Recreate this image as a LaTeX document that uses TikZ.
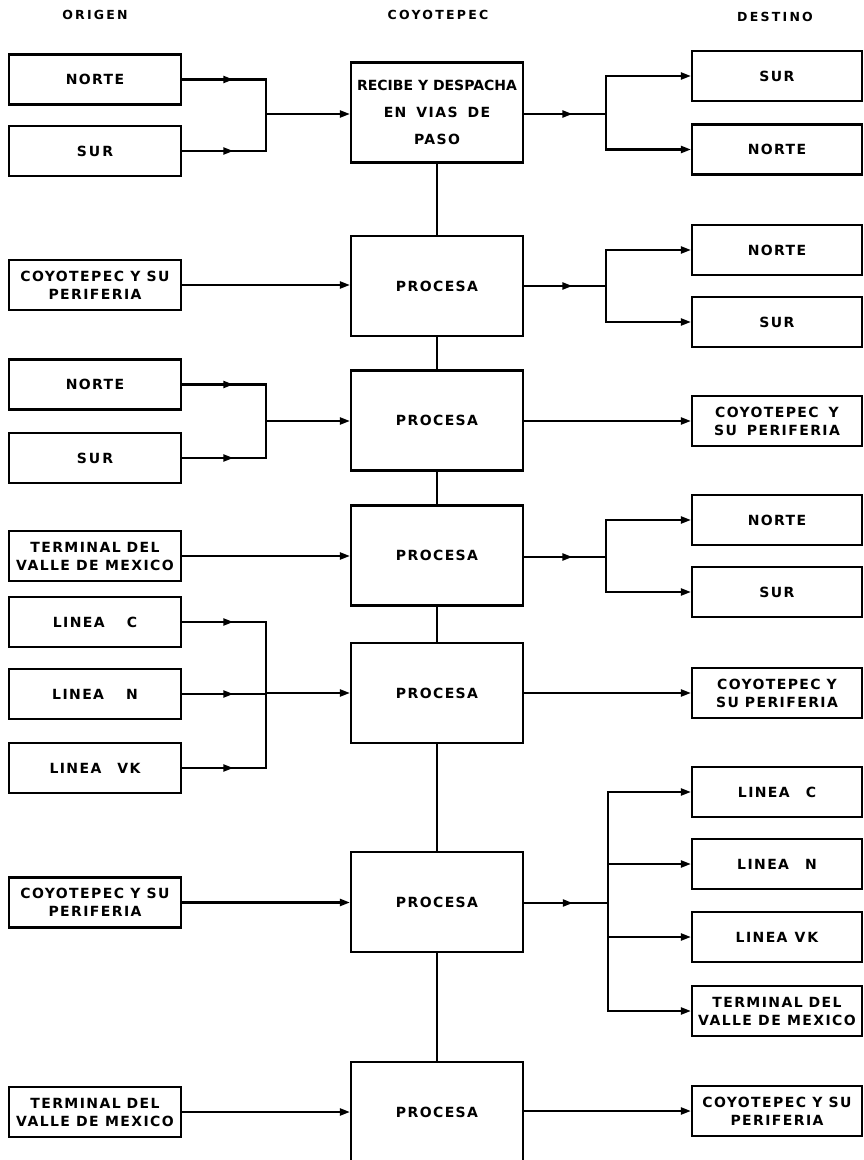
\documentclass[tikz,border=0pt]{standalone}
\usepackage{fontspec}
\setmainfont{DejaVu Sans Bold}[LetterSpace=10]
\usetikzlibrary{arrows.meta,decorations.markings}
\newcommand\gp[1]{\hspace{#1pt}}
\tikzset{
 ln/.style={line width=2.2pt, line cap=rect},
 box/.style={draw, line width=2.2pt, minimum height=50pt, inner sep=0pt, align=center,
   font=\fontsize{14}{18}\selectfont},
 lbox/.style={box, minimum width=172pt},
 cbox/.style={box, minimum width=172pt, minimum height=100pt},
 rbox/.style={box, minimum width=170pt},
 hdr/.style={font=\fontsize{12.5}{15}\selectfont\addfontfeatures{LetterSpace=18}},
 arr/.style={ln, -{Triangle[length=10pt,width=7pt]}},
 mid/.style={ln, postaction={decorate}, decoration={markings,
   mark=at position #1 with {\arrow{Triangle[length=10pt,width=7pt]}}}}
}
\begin{document}
\begin{tikzpicture}[x=1pt,y=-1pt]
\useasboundingbox (0,0) rectangle (864,1160);
\clip (0,0) rectangle (864,1160);
\fill[white] (0,0) rectangle (864,1160);
% headers
\node[hdr] (hO) at (95,15) {ORIGEN};
\node[hdr] (hC) at (438,15) {COYOTEPEC};
\node[hdr] (hD) at (775,17) {DESTINO};
% left boxes
\node[lbox] (L1) at (95,79.5) {NORTE};
\node[lbox] (L2) at (95,151) {S\gp{2}U\gp{2}R};
\node[lbox] (L3) at (95,285) {COYOTEPEC Y SU\\PERIFERIA};
\node[lbox] (L4) at (95,384.5) {NORTE};
\node[lbox] (L5) at (95,458) {S\gp{2}U\gp{2}R};
\node[lbox] (L6) at (95,556) {TERMINAL\gp{6}DEL\\VALLE DE MEXICO};
\node[lbox] (L7) at (95,622) {LINEA\gp{22}C};
\node[lbox] (L8) at (95,694) {LINEA\gp{22}N};
\node[lbox] (L9) at (95,768) {LINEA\gp{16}VK};
\node[lbox] (L10) at (95,902.5) {COYOTEPEC Y SU\\PERIFERIA};
\node[lbox] (L11) at (95,1112) {TERMINAL\gp{6}DEL\\VALLE DE MEXICO};
% centre boxes
\node[cbox] (C1) at (437,112.5) {{\addfontfeatures{LetterSpace=0}RECIBE Y DESPACHA}\\[9pt]EN\gp{10}VIAS\gp{10}DE\\[9pt]PASO};
\node[cbox] (C2) at (437,286) {PROCESA};
\node[cbox] (C3) at (437,420.5) {PROCESA};
\node[cbox] (C4) at (437,555.5) {PROCESA};
\node[cbox] (C5) at (437,693) {PROCESA};
\node[cbox] (C6) at (437,902) {PROCESA};
\node[cbox] (C7) at (437,1112) {PROCESA};
% right boxes
\node[rbox] (R1) at (777,76) {SUR};
\node[rbox] (R2) at (777,149.5) {NORTE};
\node[rbox] (R3) at (777,250) {NORTE};
\node[rbox] (R4) at (777,322) {SUR};
\node[rbox] (R5) at (777,421) {COYOTEPEC\gp{10}Y\\SU\gp{10}PERIFERIA};
\node[rbox] (R6) at (777,520) {NORTE};
\node[rbox] (R7) at (777,592) {SUR};
\node[rbox] (R8) at (777,693) {COYOTEPEC\gp{6}Y\\SU\gp{6}PERIFERIA};
\node[rbox] (R9) at (777,792) {LINEA\gp{16}C};
\node[rbox] (R10) at (777,864) {LINEA\gp{16}N};
\node[rbox] (R11) at (777,937) {LINEA\gp{7}V\gp{2}K};
\node[rbox] (R12) at (777,1011) {TERMINAL\gp{6}DEL\\VALLE DE MEXICO};
\node[rbox] (R13) at (777,1111) {COYOTEPEC Y SU\\PERIFERIA};
% centre spine
\draw[ln] (C1.south) -- (C2.north);
\draw[ln] (C2.south) -- (C3.north);
\draw[ln] (C3.south) -- (C4.north);
\draw[ln] (C4.south) -- (C5.north);
\draw[ln] (C5.south) -- (C6.north);
\draw[ln] (C6.south) -- (C7.north);
% junction points
\coordinate (j1) at (266,114);
\coordinate (j3) at (266,421);
\coordinate (j5) at (266,693);
\coordinate (s1) at (606,114);
\coordinate (s2) at (606,286);
\coordinate (s4) at (606,557);
\coordinate (s6) at (608,903);
% group 1
\draw[mid=0.61] (L1.east) -- (L1.east -| j1);
\draw[mid=0.61] (L2.east) -- (L2.east -| j1);
\draw[ln] (L1.east -| j1) -- (L2.east -| j1);
\draw[arr] (j1) -- (j1 -| C1.west);
\draw[mid=0.59] (s1 -| C1.east) -- (s1);
\draw[ln] (s1 |- R1.west) -- (s1 |- R2.west);
\draw[arr] (s1 |- R1.west) -- (R1.west);
\draw[arr] (s1 |- R2.west) -- (R2.west);
% group 2
\draw[arr] (L3.east) -- (L3.east -| C2.west);
\draw[mid=0.59] (s2 -| C2.east) -- (s2);
\draw[ln] (s2 |- R3.west) -- (s2 |- R4.west);
\draw[arr] (s2 |- R3.west) -- (R3.west);
\draw[arr] (s2 |- R4.west) -- (R4.west);
% group 3
\draw[mid=0.61] (L4.east) -- (L4.east -| j3);
\draw[mid=0.61] (L5.east) -- (L5.east -| j3);
\draw[ln] (L4.east -| j3) -- (L5.east -| j3);
\draw[arr] (j3) -- (j3 -| C3.west);
\draw[arr] (R5.west -| C3.east) -- (R5.west);
% group 4
\draw[arr] (L6.east) -- (L6.east -| C4.west);
\draw[mid=0.59] (s4 -| C4.east) -- (s4);
\draw[ln] (s4 |- R6.west) -- (s4 |- R7.west);
\draw[arr] (s4 |- R6.west) -- (R6.west);
\draw[arr] (s4 |- R7.west) -- (R7.west);
% group 5
\draw[mid=0.61] (L7.east) -- (L7.east -| j5);
\draw[mid=0.61] (L8.east) -- (L8.east -| j5);
\draw[mid=0.61] (L9.east) -- (L9.east -| j5);
\draw[ln] (L7.east -| j5) -- (L9.east -| j5);
\draw[arr] (j5) -- (j5 -| C5.west);
\draw[arr] (R8.west -| C5.east) -- (R8.west);
% group 6
\draw[arr] (L10.east) -- (L10.east -| C6.west);
\draw[mid=0.58] (s6 -| C6.east) -- (s6);
\draw[ln] (s6 |- R9.west) -- (s6 |- R12.west);
\draw[arr] (s6 |- R9.west) -- (R9.west);
\draw[arr] (s6 |- R10.west) -- (R10.west);
\draw[arr] (s6 |- R11.west) -- (R11.west);
\draw[arr] (s6 |- R12.west) -- (R12.west);
% group 7
\draw[arr] (L11.east) -- (L11.east -| C7.west);
\draw[arr] (R13.west -| C7.east) -- (R13.west);
\end{tikzpicture}
\end{document}
